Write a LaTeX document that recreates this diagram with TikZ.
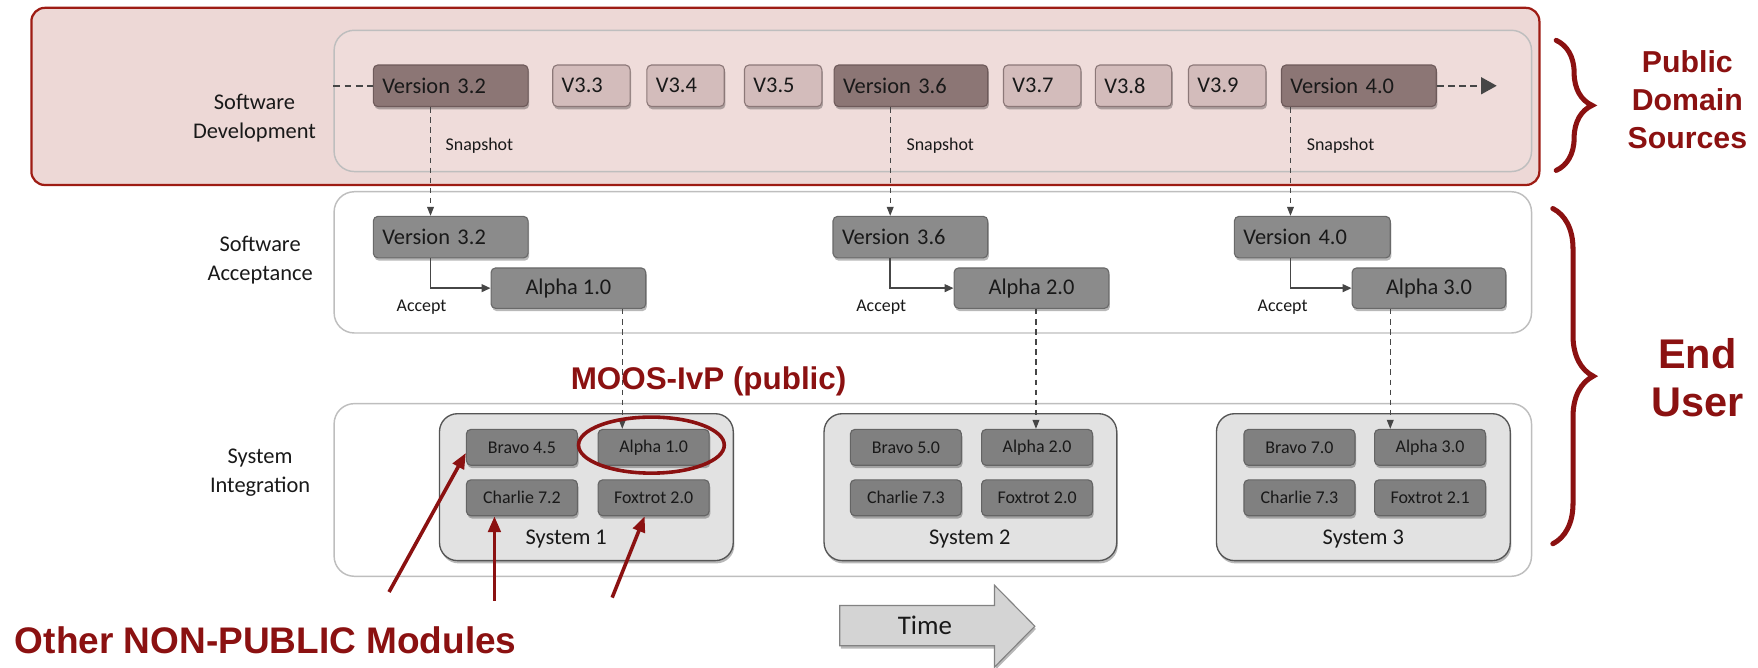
\documentclass[tikz,border=0pt]{standalone}
\usepackage{fontspec}
\setmainfont{Carlito}
\newfontfamily\redfont{Liberation Sans}
\usetikzlibrary{shadows,arrows.meta,decorations.pathreplacing,shapes.geometric}

\definecolor{redline}{RGB}{158,28,20}
\definecolor{redfill}{RGB}{237,216,214}
\definecolor{redtext}{RGB}{139,17,17}
\definecolor{bigline}{RGB}{190,190,190}
\definecolor{devline}{RGB}{190,176,175}
\definecolor{vdarkfill}{RGB}{140,118,117}
\definecolor{vdarkline}{RGB}{110,90,90}
\definecolor{vlightfill}{RGB}{211,188,187}
\definecolor{vlightline}{RGB}{140,120,120}
\definecolor{accfill}{RGB}{139,139,139}
\definecolor{accline}{RGB}{105,105,105}
\definecolor{modfill}{RGB}{128,128,128}
\definecolor{modline}{RGB}{100,100,100}
\definecolor{sysfill}{RGB}{226,226,226}
\definecolor{sysline}{RGB}{85,85,85}
\definecolor{timefill}{RGB}{212,212,212}
\definecolor{timeline}{RGB}{130,130,130}
\definecolor{flow}{RGB}{70,70,70}
\definecolor{txt}{RGB}{25,25,25}

\begin{document}
\begin{tikzpicture}[x=1pt,y=-1pt,
  shad/.style={drop shadow={shadow xshift=1pt,shadow yshift=-2.5pt,opacity=0.28,fill=black}},
  bigbox/.style={draw=bigline,line width=1.3pt,rounded corners=18pt,inner sep=0pt},
  vbox/.style={rounded corners=4pt,line width=1pt,inner ysep=0pt,inner xsep=8pt,
      minimum height=37pt,align=left,text=txt,font=\fontsize{20}{24}\selectfont,shad},
  vdark/.style={vbox,draw=vdarkline,fill=vdarkfill},
  vlight/.style={vbox,draw=vlightline,fill=vlightfill},
  accbox/.style={rounded corners=4pt,line width=1pt,inner sep=0pt,draw=accline,fill=accfill,
      minimum height=37pt,text=txt,font=\fontsize{20}{24}\selectfont,shad},
  modbox/.style={rounded corners=4pt,line width=1pt,inner sep=0pt,draw=modline,fill=modfill,
      minimum width=99pt,minimum height=32pt,text=txt,font=\fontsize{16}{19}\selectfont,shad},
  sysbox/.style={rounded corners=16pt,line width=1.2pt,draw=sysline,fill=sysfill,inner sep=0pt,
      minimum width=262pt,minimum height=131pt,shad},
  lbl/.style={text=txt,align=center,font=\fontsize{20}{26}\selectfont},
  small/.style={text=txt,font=\fontsize{16}{19}\selectfont},
  flowdash/.style={draw=flow,line width=1.1pt,dash pattern=on 5pt off 4pt},
  flowarr/.style={flowdash,-{Triangle[length=8pt,width=6pt]}},
  acceptarr/.style={draw=flow,line width=1.4pt,-{Triangle[length=8pt,width=7pt]}},
  redarr/.style={draw=redtext,line width=3.2pt,-{Triangle[length=14pt,width=11pt]}},
  redlbl/.style={text=redtext,align=center,font=\redfont\bfseries},
  bracestyle/.style={draw=redtext,line width=4.5pt,line cap=round,decorate}
]
\useasboundingbox (0,0) rectangle (1568,595);

% --- background boxes
\node[draw=redline,fill=redfill,line width=2pt,rounded corners=12pt,inner sep=0pt,
      minimum width=1345pt,minimum height=158pt] (redbox) at (700.5,86) {};
\node[bigbox,fill=white,fill opacity=0.12,minimum width=1068pt,minimum height=126pt] (dev) at (832,90) {};
\node[bigbox,fill=white,minimum width=1068pt,minimum height=126pt] (acc) at (832,234) {};
\node[bigbox,fill=white,minimum width=1068pt,minimum height=154pt] (sys) at (832,437) {};

% --- row labels
\node[lbl] (ldev) at (227,105) {Software\\Development};
\node[lbl] (lacc) at (232,232) {Software\\Acceptance};
\node[lbl] (lsys) at (232,421.5) {System\\Integration};

% --- development row
\node[vdark,text width=122pt] (d32) at (402,76.5) {Version 3.2};
\node[vlight,text width=53pt] (v33) at (527.5,76.5) {V3.3};
\node[vlight,text width=53pt] (v34) at (611.5,76.5) {V3.4};
\node[vlight,text width=53pt] (v35) at (698.5,76.5) {V3.5};
\node[vdark,text width=121pt] (d36) at (812.5,76.5) {Version 3.6};
\node[vlight,text width=53pt] (v37) at (929.5,76.5) {V3.7};
\node[vlight,text width=52pt] (v38) at (1011,76.5) {V3.8};
\node[vlight,text width=53pt] (v39) at (1094.5,76.5) {V3.9};
\node[vdark,text width=122pt] (d40) at (1212,76.5) {Version 4.0};

\coordinate (topend) at (1335,76.5);
\draw[draw=flow,line width=1.8pt,dash pattern=on 6pt off 4pt] (dev.west |- d32.west) -- (d32.west);
\draw[draw=flow,line width=1.8pt,dash pattern=on 6pt off 4pt,-{Triangle[length=14pt,width=15pt]}] (d40.east) -- (topend);

% --- acceptance row
\node[accbox,minimum width=138pt,inner xsep=8pt,text width=122pt,align=left] (a32) at (402,211.5) {Version 3.2};
\node[accbox,minimum width=138pt,minimum height=36pt] (al1) at (507,257) {Alpha 1.0};
\node[accbox,minimum width=138pt,inner xsep=8pt,text width=122pt,align=left] (a36) at (812,211.5) {Version 3.6};
\node[accbox,minimum width=138pt,minimum height=36pt] (al2) at (920,257) {Alpha 2.0};
\node[accbox,minimum width=139pt,inner xsep=8pt,text width=123pt,align=left] (a40) at (1170.5,211.5) {Version 4.0};
\node[accbox,minimum width=137pt,minimum height=36pt] (al3) at (1274.5,257) {Alpha 3.0};

% snapshot columns
\coordinate (s1) at (384,0);
\coordinate (s2) at (794,0);
\coordinate (s3) at (1151,0);
\draw[flowarr] (d32.south -| s1) -- (a32.north -| s1);
\draw[flowarr] (d36.south -| s2) -- (a36.north -| s2);
\draw[flowarr] (d40.south -| s3) -- (a40.north -| s3);
\node[small,anchor=west] (sn1) at (394,130) {Snapshot};
\node[small,anchor=west] (sn2) at (805,130) {Snapshot};
\node[small,anchor=west] (sn3) at (1162,130) {Snapshot};

% accept arrows
\draw[acceptarr] (a32.south -| s1) |- (al1.west);
\draw[acceptarr] (a36.south -| s2) |- (al2.west);
\draw[acceptarr] (a40.south -| s3) |- (al3.west);
\node[small] (ac1) at (376,274) {Accept};
\node[small] (ac2) at (786,274) {Accept};
\node[small] (ac3) at (1144,274) {Accept};

% --- systems
\node[sysbox] (sys1) at (523,434.5) {};
\node[sysbox,minimum width=261pt] (sys2) at (865.5,434.5) {};
\node[sysbox] (sys3) at (1216,434.5) {};

\node[modbox] (m1b) at (465.5,399) {Bravo 4.5};
\node[modbox] (m1a) at (583,399) {Alpha 1.0};
\node[modbox] (m1c) at (465.5,444) {Charlie 7.2};
\node[modbox] (m1f) at (583,444) {Foxtrot 2.0};
\node[lbl] (sl1) at (505,481) {System 1};

\node[modbox] (m2b) at (808,399) {Bravo 5.0};
\node[modbox] (m2a) at (925,399) {Alpha 2.0};
\node[modbox] (m2c) at (808,444) {Charlie 7.3};
\node[modbox] (m2f) at (925,444) {Foxtrot 2.0};
\node[lbl] (sl2) at (865,481) {System 2};

\node[modbox] (m3b) at (1159,399) {Bravo 7.0};
\node[modbox] (m3a) at (1275.5,399) {Alpha 3.0};
\node[modbox] (m3c) at (1159,444) {Charlie 7.3};
\node[modbox] (m3f) at (1275.5,444) {Foxtrot 2.1};
\node[lbl] (sl3) at (1216,481) {System 3};

% alpha to system
\coordinate (c1) at (555,0);
\coordinate (c2) at (924,0);
\coordinate (c3) at (1240,0);
\draw[flowarr] (al1.south -| c1) -- (m1a.north -| c1);
\draw[flowarr] (al2.south -| c2) -- (m2a.north -| c2);
\draw[flowarr] (al3.south -| c3) -- (m3a.north -| c3);

% --- red annotations
\node[draw=redtext,line width=3.2pt,ellipse,minimum width=130pt,minimum height=50pt,inner sep=0pt] (hl) at (581,397) {};
\node[redlbl,font=\redfont\bfseries\fontsize{28}{32}\selectfont] (moos) at (632,340) {MOOS-IvP (public)};
\node[redlbl,font=\redfont\bfseries\fontsize{33}{38}\selectfont] (other) at (237,571) {Other NON-PUBLIC Modules};

\coordinate (r1) at (347,528);
\coordinate (r2) at (441,536);
\coordinate (r3) at (546,533);
\draw[redarr] (r1) -- ([yshift=-5pt]m1b.west);
\draw[redarr] (r2) -- (m1c.south -| r2);
\draw[redarr] (r3) -- ([xshift=-8pt]m1f.south);

% braces
\coordinate (b1t) at (1388,36);
\coordinate (b1b) at (1388,152);
\coordinate (b2t) at (1385,186);
\coordinate (b2b) at (1385,485);
\draw[bracestyle,decoration={brace,amplitude=32pt}] (b1t) -- (b1b);
\draw[bracestyle,decoration={brace,amplitude=36pt}] (b2t) -- (b2b);
\node[redlbl,font=\redfont\bfseries\fontsize{27}{34}\selectfont] (pds) at (1505,89) {Public\\Domain\\Sources};
\node[redlbl,font=\redfont\bfseries\fontsize{37}{43}\selectfont] (eu) at (1514,336.5) {End\\User};

% --- time arrow
\path[fill=timefill,draw=timeline,line width=1pt,shad]
  (749,540) -- (887,540) -- (887,522) -- (923,558.5) -- (887,595) -- (887,576) -- (749,576) -- cycle;
\node[text=txt,font=\fontsize{24}{28}\selectfont] (time) at (825,558) {Time};
\end{tikzpicture}
\end{document}
